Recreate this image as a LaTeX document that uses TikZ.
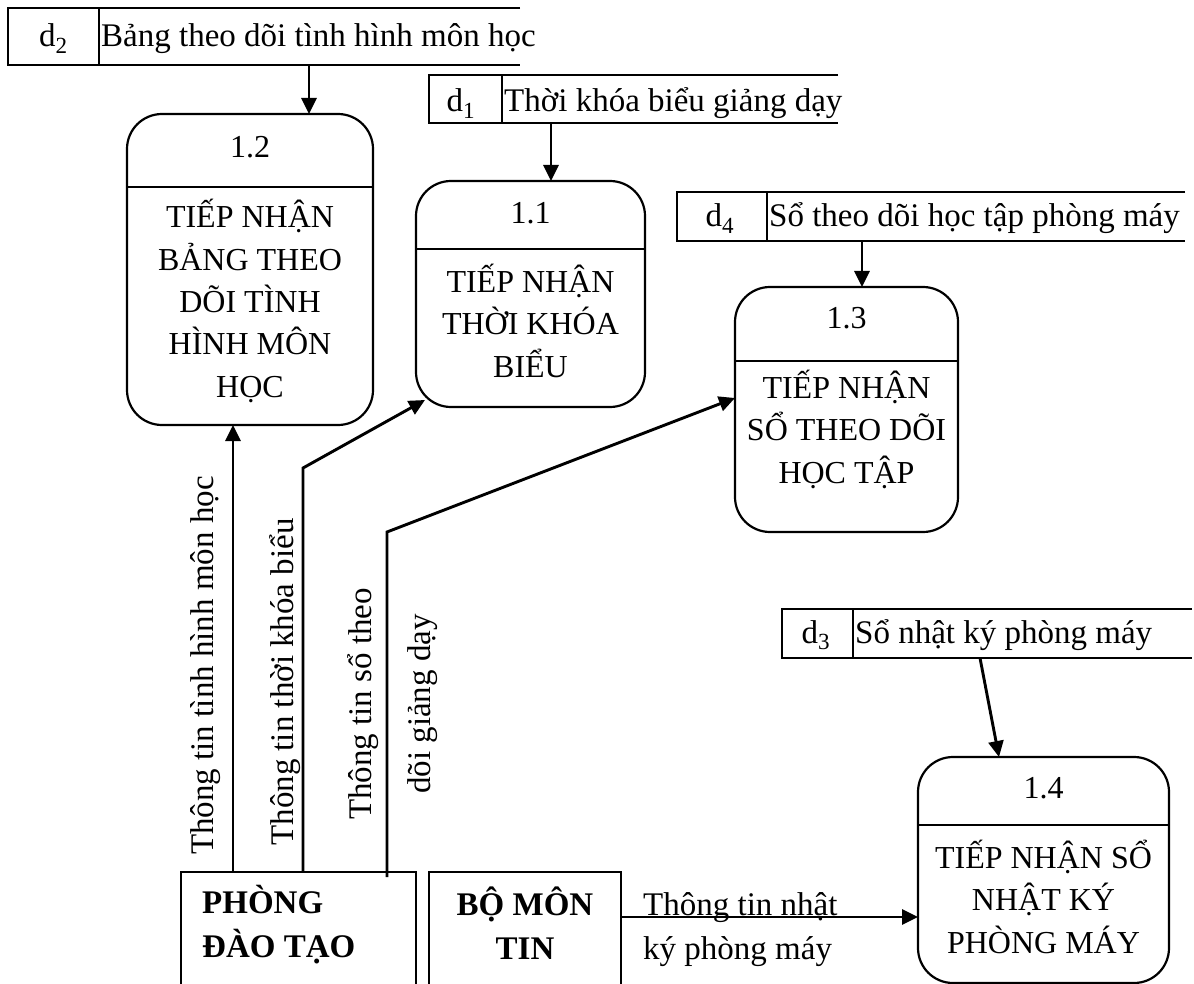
\documentclass[tikz,border=0pt]{standalone}
\usepackage{fontspec}
\setmainfont{Liberation Serif}
\usetikzlibrary{arrows.meta}
\begin{document}
\begin{tikzpicture}[x=1pt,y=-1pt,
  proc/.style={draw, line width=2.2pt, rounded corners=35pt, inner sep=0pt, outer sep=0pt},
  ent/.style={draw, line width=2.2pt, inner sep=0pt, outer sep=0pt},
  storebox/.style={inner sep=0pt, outer sep=0pt},
  storeline/.style={line width=2.2pt},
  divline/.style={line width=2.2pt},
  flow/.style={line width=2.9pt, -{Triangle[length=16pt,width=15pt]}},
  ptxt/.style={font=\fontsize{32}{42.3}\selectfont, align=center, anchor=base, inner sep=0pt},
  stxt/.style={font=\fontsize{33}{40}\selectfont, inner sep=0pt},
  ltxt/.style={font=\fontsize{33}{44}\selectfont, inner sep=0pt},
]
\useasboundingbox (0,0) rectangle (1194,984);
\clip (0,0) rectangle (1194,984);

% ---------- data stores ----------
\node[storebox, minimum width=512pt, minimum height=57pt] (d2) at (264,36.5) {};
\draw[storeline] (d2.north east) -- (d2.north west) -- (d2.south west) -- (d2.south east);
\draw[storeline] (d2.north west -| 99,0) -- (d2.south west -| 99,0);
\node[stxt, anchor=base] (d2id) at (53.5,47) {d\textsubscript{2}};
\node[stxt, anchor=base west] (d2name) at (101,47) {Bảng theo dõi tình hình môn học};

\node[storebox, minimum width=409pt, minimum height=48pt] (d1) at (633.5,99) {};
\draw[storeline] (d1.north east) -- (d1.north west) -- (d1.south west) -- (d1.south east);
\draw[storeline] (d1.north west -| 502,0) -- (d1.south west -| 502,0);
\node[stxt, anchor=base] (d1id) at (461,112) {d\textsubscript{1}};
\node[stxt, anchor=base west] (d1name) at (504,112) {Thời khóa biểu giảng dạy};

\node[storebox, minimum width=508pt, minimum height=49pt] (d4) at (931,216.5) {};
\draw[storeline] (d4.north east) -- (d4.north west) -- (d4.south west) -- (d4.south east);
\draw[storeline] (d4.north west -| 767,0) -- (d4.south west -| 767,0);
\node[stxt, anchor=base] (d4id) at (720,227) {d\textsubscript{4}};
\node[stxt, anchor=base west] (d4name) at (769,227) {Sổ theo dõi học tập phòng máy};

\node[storebox, minimum width=410pt, minimum height=49pt] (d3) at (987,633.5) {};
\draw[storeline] (d3.north east) -- (d3.north west) -- (d3.south west) -- (d3.south east);
\draw[storeline] (d3.north west -| 853,0) -- (d3.south west -| 853,0);
\node[stxt, anchor=base] (d3id) at (816,643) {d\textsubscript{3}};
\node[stxt, anchor=base west] (d3name) at (855,643) {Sổ nhật ký phòng máy};

% ---------- processes ----------
\node[proc, minimum width=246pt, minimum height=311pt] (b12) at (250,269.5) {};
\draw[divline] (b12.north west |- 0,187) -- (b12.north east |- 0,187);
\node[ptxt] (b12n) at (250,158) {1.2};
\node[ptxt] (b12t) at (250,397) {TIẾP NHẬN\\BẢNG THEO\\DÕI TÌNH\\HÌNH MÔN\\HỌC};

\node[proc, minimum width=229pt, minimum height=226pt] (b11) at (530.5,294) {};
\draw[divline] (b11.north west |- 0,249) -- (b11.north east |- 0,249);
\node[ptxt] (b11n) at (530.5,224) {1.1};
\node[ptxt] (b11t) at (530.5,377) {TIẾP NHẬN\\THỜI KHÓA\\BIỂU};

\node[proc, minimum width=223pt, minimum height=245pt] (b13) at (846.5,409.5) {};
\draw[divline] (b13.north west |- 0,361) -- (b13.north east |- 0,361);
\node[ptxt] (b13n) at (846.5,329) {1.3};
\node[ptxt] (b13t) at (846.5,483) {TIẾP NHẬN\\SỔ THEO DÕI\\HỌC TẬP};

\node[proc, minimum width=251pt, minimum height=226pt] (b14) at (1043.5,870) {};
\draw[divline] (b14.north west |- 0,825) -- (b14.north east |- 0,825);
\node[ptxt] (b14n) at (1043.5,798) {1.4};
\node[ptxt] (b14t) at (1043.5,953) {TIẾP NHẬN SỔ\\NHẬT KÝ\\PHÒNG MÁY};

% ---------- external entities ----------
\node[ent, minimum width=235pt, minimum height=140pt] (pdt) at (298.5,942) {};
\node[ltxt, anchor=base west, align=left, font=\fontsize{33}{44}\selectfont\bfseries] (pdtt) at (202,957) {PHÒNG\\ĐÀO TẠO};

\node[ent, minimum width=192pt, minimum height=140pt] (bmt) at (525,942) {};
\node[ltxt, anchor=base, align=center, font=\fontsize{33}{44}\selectfont\bfseries] (bmtt) at (525,959) {BỘ MÔN\\TIN};

% ---------- flows ----------
\draw[flow] (d2.south -| 309,0) -- (b12.north -| 309,0);
\draw[flow] (d1.south -| 551,0) -- (b11.north -| 551,0);
\draw[flow] (d4.south -| 862,0) -- (b13.north -| 862,0);
\coordinate (d3out) at (980,658);
\coordinate (b14in) at (999,757);
\draw[flow] (d3out) -- (b14in);

\draw[flow] (pdt.north -| 233,0) -- (b12.south -| 233,0);
\coordinate (b11in) at (425,400);
\draw[flow] (pdt.north -| 303,0) -- (303,468) -- (b11in);
\coordinate (pdtout3) at (387,877);
\draw[flow] (pdtout3) -- (387,532) -- (b13.west |- 0,398);
\draw[flow] (bmt.east |- 0,917) -- (b14.west |- 0,917);

% ---------- flow labels ----------
\node[ltxt, rotate=90, anchor=base] (l12) at (213,665.5) {Thông tin tình hình môn học};
\node[ltxt, rotate=90, anchor=base] (l11) at (293,682) {Thông tin thời khóa biểu};
\node[ltxt, rotate=90, anchor=base, align=center, font=\fontsize{33}{59}\selectfont] (l13) at (430,704) {Thông tin sổ theo\\dõi giảng dạy};
\node[ltxt, anchor=base west, align=left] (l14) at (643,959) {Thông tin nhật\\ký phòng máy};
\end{tikzpicture}
\end{document}
